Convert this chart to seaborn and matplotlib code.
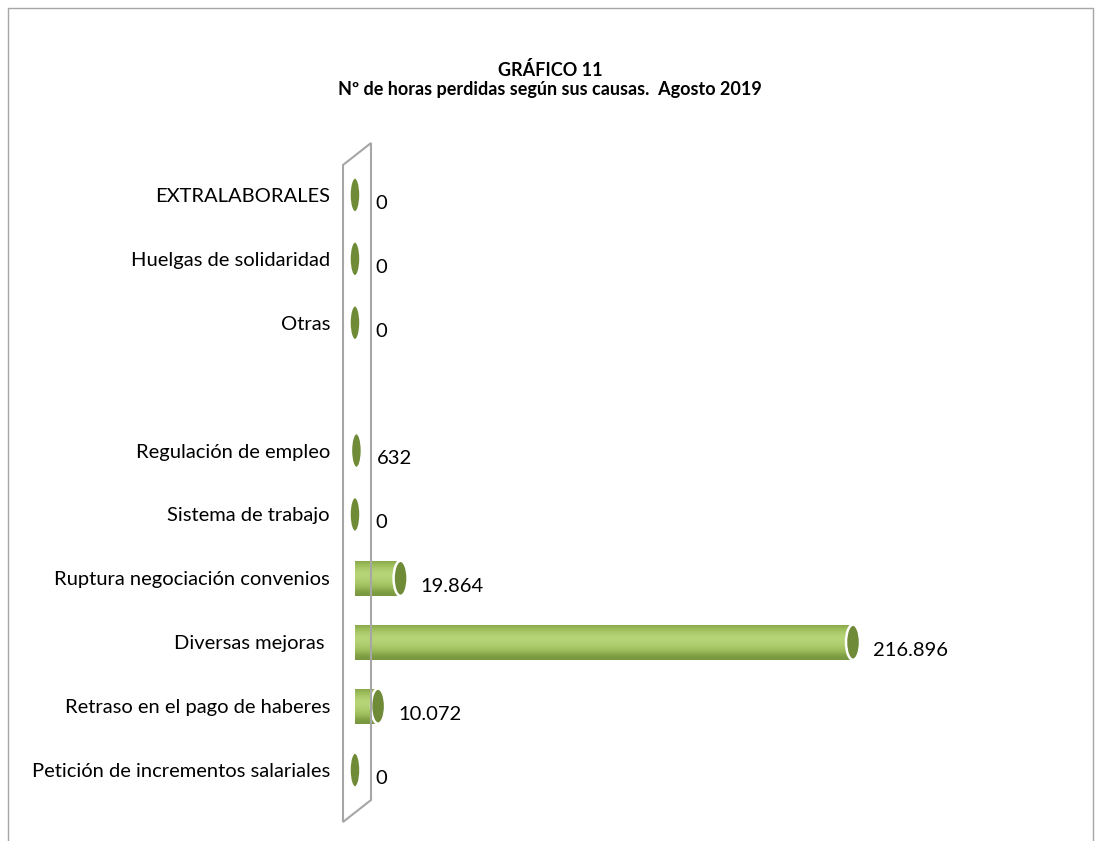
import numpy as np
import pandas as pd
import seaborn as sns
import matplotlib.pyplot as plt
from matplotlib.patches import Ellipse, Polygon, Rectangle

# categories listed top to bottom; " " is the empty slot between groups
causas = [
    "EXTRALABORALES",
    "Huelgas de solidaridad",
    "Otras",
    " ",
    "Regulación de empleo",
    "Sistema de trabajo",
    "Ruptura negociación convenios",
    "Diversas mejoras ",
    "Retraso en el pago de haberes",
    "Petición de incrementos salariales",
]
horas = [0, 0, 0, np.nan, 632, 0, 19864, 216896, 10072, 0]
etiquetas = ["0", "0", "0", "", "632", "0", "19.864", "216.896", "10.072", "0"]

df = pd.DataFrame({"causa": causas, "horas": horas})

sns.set_style("white")
plt.rcParams["font.family"] = ["Lato", "DejaVu Sans"]
plt.rcParams["text.color"] = "black"
plt.rcParams["ytick.color"] = "black"

fig = plt.figure(figsize=(11, 8.41), dpi=100)
ax = fig.add_axes([0.3227, 0.0464, 0.668, 0.7598])

bar_h = 0.55
sns.barplot(data=df, y="causa", x="horas", order=causas, orient="h",
            color="#9BBB59", saturation=1, width=bar_h, linewidth=0, ax=ax)
ax.set_xlim(0, 320000)
ax.set_ylim(len(causas) - 0.5, -0.5)

# cylinder shading: vertical gradient clipped to each bar
grad = np.array([0.55, 0.8, 1.0, 0.95, 0.8, 0.6, 0.45]).reshape(-1, 1)
cmap = sns.blend_palette(["#5E7A2A", "#9BBB59", "#B9D77A"], as_cmap=True)
for bar in list(ax.patches):
    x0, y0 = bar.get_x(), bar.get_y()
    bw, bh = bar.get_width(), bar.get_height()
    if not bw or np.isnan(bw):
        continue
    im = ax.imshow(grad, cmap=cmap, vmin=0.3, vmax=1.0, aspect="auto",
                   extent=(x0, x0 + bw, y0 + bh, y0), interpolation="bicubic",
                   zorder=3)
    im.set_clip_path(bar)
ax.set_xlim(0, 320000)
ax.set_ylim(len(causas) - 0.5, -0.5)

# cylinder end caps
fig.canvas.draw()
px_per_x = ax.transData.transform((1000, 0))[0] - ax.transData.transform((0, 0))[0]
for i, v in enumerate(horas):
    if np.isnan(v):
        continue
    cap_w = (14 if v > 5000 else 11) / px_per_x * 1000
    ax.add_patch(Ellipse((v, i), cap_w, bar_h, facecolor="#6F8B38",
                         edgecolor="white", lw=1.8, zorder=5, clip_on=False))
    ax.text(v + 20 / px_per_x * 1000, i + 0.13, etiquetas[i],
            va="center", ha="left", fontsize=14.5, color="black")

ax.set_xlabel("")
ax.set_ylabel("")
ax.set_xticks([])
ax.tick_params(axis="y", length=0, pad=18, labelsize=14.5)
sns.despine(ax=ax, left=True, bottom=True)

# side wall of the 3-D chart
w = 1100
h = 841
wall = [(343, 165), (371, 143), (371, 800), (343, 822)]
fig.patches.append(Polygon([(x / w, 1 - y / h) for x, y in wall], closed=True,
                           fill=False, edgecolor="#A6A6A6", lw=1.5,
                           transform=fig.transFigure))

# outer frame
fig.patches.append(Rectangle((8 / w, -0.01), (1093 - 8) / w, 1 - 8 / h + 0.01,
                             fill=False, edgecolor="#A6A6A6", lw=1,
                             transform=fig.transFigure))

fig.text(0.5, 1 - 70 / h, "GRÁFICO 11", ha="center", va="center",
         fontsize=13, fontweight="bold")
fig.text(0.5, 1 - 90 / h, "Nº de horas perdidas según sus causas.  Agosto 2019",
         ha="center", va="center", fontsize=13, fontweight="bold")

fig.savefig("out.png", dpi=100)
